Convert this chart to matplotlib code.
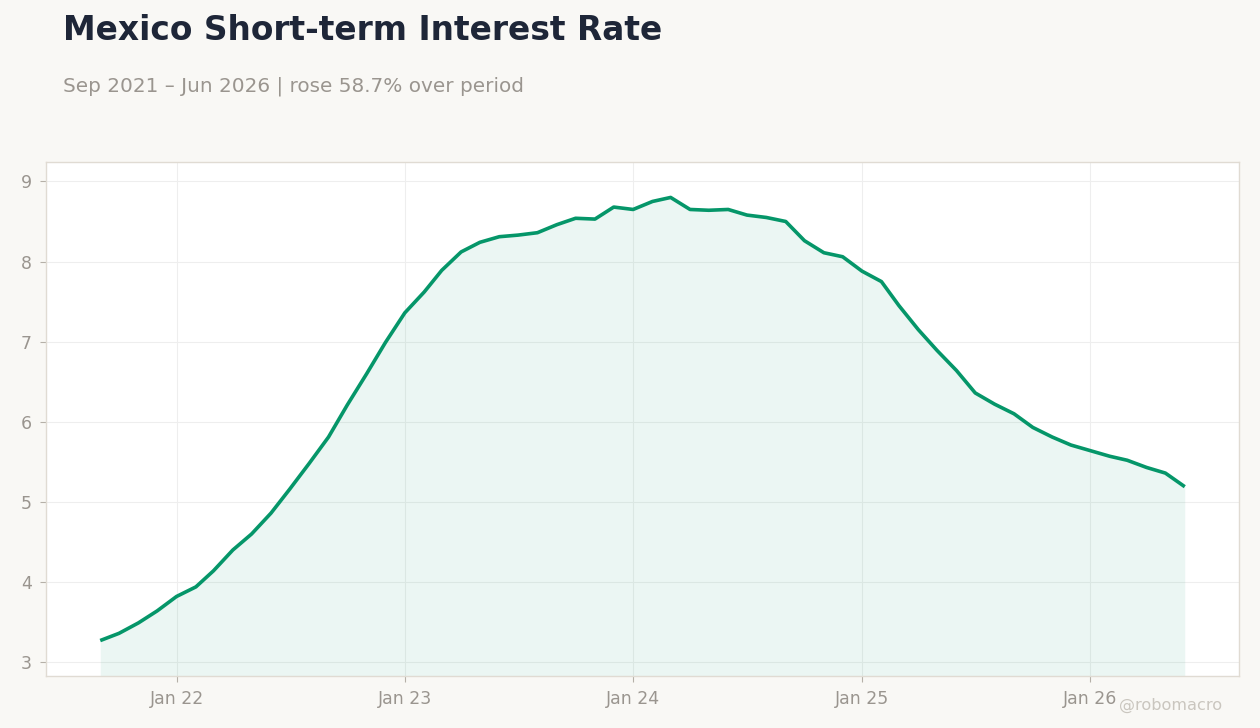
import matplotlib
matplotlib.use("Agg")
import matplotlib.pyplot as plt
import matplotlib.dates as mdates
import pandas as pd
import numpy as np

# ---- data ----
start_month = "2021-09-01"
rates = [
    3.27, 3.36, 3.49, 3.64,                      # Sep-Dec 2021
    3.82, 3.94, 4.14, 4.40, 4.60, 4.86, 5.16, 5.48, 5.81, 6.21, 6.60, 6.99,  # 2022
    7.36, 7.62, 7.89, 8.12, 8.24, 8.31, 8.33, 8.36, 8.46, 8.54, 8.53, 8.68,  # 2023
    8.65, 8.75, 8.80, 8.65, 8.64, 8.65, 8.58, 8.55, 8.50, 8.26, 8.11, 8.06,  # 2024
    7.88, 7.75, 7.45, 7.15, 6.89, 6.64, 6.36, 6.22, 6.10, 5.93, 5.81, 5.71,  # 2025
    5.64, 5.57, 5.52, 5.43, 5.36, 5.19,          # Jan-Jun 2026
]
title = "Mexico Short-term Interest Rate"
subtitle = "Sep 2021 – Jun 2026 | rose 58.7% over period"
y_ticks = [3, 4, 5, 6, 7, 8, 9]
watermark = "@robomacro"

dates = pd.date_range(start_month, periods=len(rates), freq="MS")

# ---- style ----
BG = "#f9f8f5"
LINE = "#059669"
GRAY = "#9a958f"
SPINE = "#e0dbd3"

fig = plt.figure(figsize=(12.6, 7.28), dpi=100, facecolor=BG)
ax = fig.add_axes([46/1260, 1-676/728, (1239-46)/1260, (676-162)/728])
ax.set_facecolor("white")

vals = np.array(rates)
span = vals.max() - vals.min()
ylo = vals.min() - 0.08 * span
yhi = vals.max() + 0.08 * span

ax.fill_between(dates, rates, ylo, color=LINE, alpha=0.08, linewidth=0, zorder=2)
ax.plot(dates, rates, color=LINE, linewidth=2.6, zorder=3, solid_capstyle="butt")

ax.set_ylim(ylo, yhi)
ax.margins(x=0.05)
ax.set_yticks(y_ticks)

ax.xaxis.set_major_locator(mdates.YearLocator(month=1, day=1))
ax.xaxis.set_major_formatter(mdates.DateFormatter("%b %y"))

ax.grid(True, color="#eeeeee", linewidth=0.8, zorder=0)
ax.set_axisbelow(True)
for s in ax.spines.values():
    s.set_color(SPINE)
    s.set_linewidth(1.0)

ax.tick_params(axis="both", colors="#b5b0a8", labelcolor=GRAY, labelsize=12.5,
               length=4, width=0.8, pad=6)

fig.text(63/1260, 1-40/728, title, fontsize=23.7, fontweight="bold",
         color="#1e2638", ha="left", va="baseline")
fig.text(63/1260, 1-92/728, subtitle, fontsize=14.4, color=GRAY,
         ha="left", va="baseline")
fig.text(1222/1260, 1-710/728, watermark, fontsize=11.6, color="#cac6bf",
         ha="right", va="baseline")

fig.savefig("out.png", dpi=100, facecolor=BG)
